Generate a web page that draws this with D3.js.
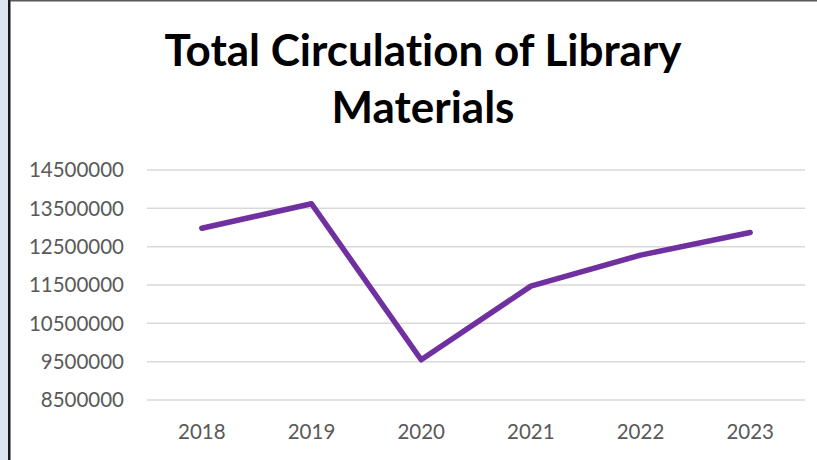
<!DOCTYPE html>
<html>
<head>
<meta charset="utf-8">
<script src="https://cdn.jsdelivr.net/npm/d3@7"></script>
<style>
  body { margin: 0; background: #fff; }
  svg { display: block; }
  text { font-variant-ligatures: none; }
  .tick-label { font-family: Lato, "Open Sans", sans-serif; fill: #595959; }
</style>
</head>
<body>
<div id="lineChart"></div>
<script>
// chart data
var years = ["2018", "2019", "2020", "2021", "2022", "2023"];
var circulation = [12980000, 13620000, 9550000, 11470000, 12280000, 12870000];
var yTicks = [8500000, 9500000, 10500000, 11500000, 12500000, 13500000, 14500000];
var titleLines = ["Total Circulation of Library", "Materials"];

var width = 817, height = 460;
var plot = {left: 147, right: 805, top: 170, bottom: 400};

var svg = d3.select("#lineChart")
  .append("svg")
  .attr("width", width)
  .attr("height", height);

// frame bits on the edges
svg.append("rect").attr("x", 0).attr("y", 0).attr("width", 8).attr("height", height).style("fill", "#dce6f2");
svg.append("rect").attr("x", 8).attr("y", 0).attr("width", 2.5).attr("height", height).style("fill", "#1a1a1a");
svg.append("rect").attr("x", 10).attr("y", 0).attr("width", width - 10).attr("height", 1.5).style("fill", "#595959");

var xScale = d3.scalePoint().domain(years).range([plot.left, plot.right]).padding(0.5);
var yScale = d3.scaleLinear().domain([yTicks[0], yTicks[yTicks.length - 1]]).range([plot.bottom, plot.top]);

// gridlines
svg.append("g")
  .selectAll("line")
  .data(yTicks)
  .enter().append("line")
  .attr("x1", plot.left)
  .attr("x2", plot.right)
  .attr("y1", function(d) { return yScale(d); })
  .attr("y2", function(d) { return yScale(d); })
  .style("stroke", "#d9d9d9")
  .style("stroke-width", 1.5);

// y labels
svg.append("g")
  .selectAll("text")
  .data(yTicks)
  .enter().append("text")
  .attr("class", "tick-label")
  .attr("x", 124)
  .attr("y", function(d) { return yScale(d); })
  .attr("dy", "0.36em")
  .attr("text-anchor", "end")
  .style("font-size", "20.5px")
  .text(function(d) { return d; });

// x labels
svg.append("g")
  .selectAll("text")
  .data(years)
  .enter().append("text")
  .attr("class", "tick-label")
  .attr("x", function(d) { return xScale(d); })
  .attr("y", 439)
  .attr("text-anchor", "middle")
  .style("font-size", "20.5px")
  .text(function(d) { return d; });

// the line
var line = d3.line()
  .x(function(d, i) { return xScale(years[i]); })
  .y(function(d) { return yScale(d); });

svg.append("path")
  .datum(circulation)
  .attr("d", line)
  .style("fill", "none")
  .style("stroke", "#7030a0")
  .style("stroke-width", 5.5)
  .style("stroke-linecap", "round")
  .style("stroke-linejoin", "round");

// title
svg.append("g")
  .selectAll("text")
  .data(titleLines)
  .enter().append("text")
  .attr("x", 423)
  .attr("y", function(d, i) { return 66 + i * 57; })
  .attr("text-anchor", "middle")
  .style("font-family", "Lato, 'Open Sans', sans-serif")
  .style("font-weight", "bold")
  .style("font-size", "44px")
  .style("fill", "#000")
  .text(function(d) { return d; });
</script>
</body>
</html>
